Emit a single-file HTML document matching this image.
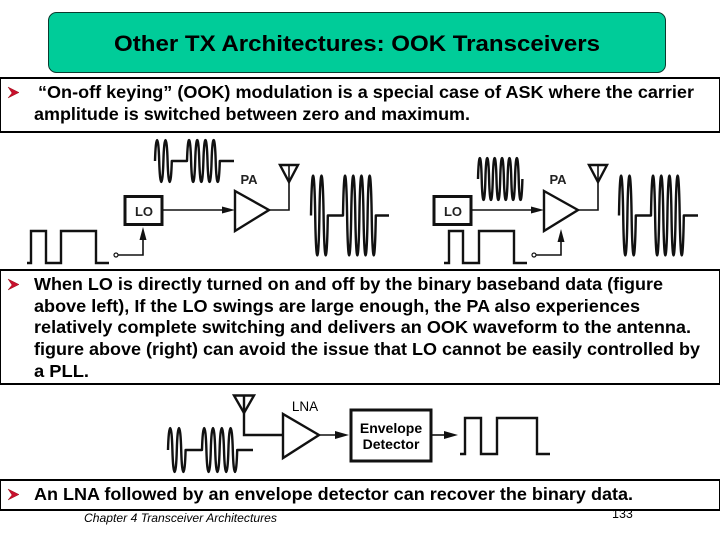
<!DOCTYPE html>
<html><head><meta charset="utf-8"><style>
html,body{margin:0;padding:0;background:#fff;width:720px;height:540px;overflow:hidden}
svg{display:block}
text{font-family:"Liberation Sans",Arial,sans-serif;fill:#000}
.b{font-weight:bold;font-size:17.2px}
.l{font-weight:bold;font-size:13px;fill:#222}
.w{fill:none;stroke:#111;stroke-width:2.4;vector-effect:non-scaling-stroke;stroke-linejoin:round}
.s{fill:none;stroke:#111;stroke-width:1.6}
.q{fill:none;stroke:#111;stroke-width:2.4}
.x{fill:none;stroke:#111;stroke-width:3}
.t{fill:none;stroke:#111;stroke-width:2.4}
.a{fill:#111;stroke:none}
.bl{fill:#c8102e;stroke:#800;stroke-width:.4}
</style></head><body>
<svg width="720" height="540" viewBox="0 0 720 540" xmlns="http://www.w3.org/2000/svg">
<rect x="48.5" y="12.5" width="617" height="60" rx="8" fill="#00cc99" stroke="#0b3b2e" stroke-width="1"/>
<text x="114" y="51" font-size="22" font-weight="bold" textLength="486" lengthAdjust="spacingAndGlyphs">Other TX Architectures: OOK Transceivers</text>

<rect x="0" y="78" width="720" height="54" fill="#fff" stroke="#000" stroke-width="2"/>
<rect x="0" y="270" width="720" height="114" fill="#fff" stroke="#000" stroke-width="2"/>
<rect x="0" y="480" width="720" height="30" fill="#fff" stroke="#000" stroke-width="2"/>

<path class="bl" d="M8,87 L19,92.5 L8,98 L12,93 Z"/>
<path class="bl" d="M8,279 L19,284.5 L8,290 L12,285 Z"/>
<path class="bl" d="M8,489 L19,494.5 L8,500 L12,495 Z"/>

<text class="b" x="38" y="98" textLength="656" lengthAdjust="spacingAndGlyphs">“On-off keying” (OOK) modulation is a special case of ASK where the carrier</text>
<text class="b" x="34" y="120" textLength="436" lengthAdjust="spacingAndGlyphs">amplitude is switched between zero and maximum.</text>
<text class="b" x="34" y="290" textLength="629" lengthAdjust="spacingAndGlyphs">When LO is directly turned on and off by the binary baseband data (figure</text>
<text class="b" x="34" y="312" textLength="606" lengthAdjust="spacingAndGlyphs">above left), If the LO swings are large enough, the PA also experiences</text>
<text class="b" x="34" y="333" textLength="657" lengthAdjust="spacingAndGlyphs">relatively complete switching and delivers an OOK waveform to the antenna.</text>
<text class="b" x="34" y="355" textLength="666" lengthAdjust="spacingAndGlyphs">figure above (right) can avoid the issue that LO cannot be easily controlled by</text>
<text class="b" x="34" y="377" textLength="55" lengthAdjust="spacingAndGlyphs">a PLL.</text>
<text class="b" x="34" y="500" textLength="599" lengthAdjust="spacingAndGlyphs">An LNA followed by an envelope detector can recover the binary data.</text>
<text x="84" y="522" font-size="12" font-style="italic" textLength="193" lengthAdjust="spacingAndGlyphs" fill="#222">Chapter 4 Transceiver Architectures</text>
<text x="612" y="518" font-size="12.5" fill="#222">133</text>

<!-- left TX -->
<path class="w" transform="translate(155,161) scale(1,21)" d="M0,0 c.8,-1.33 3.4,-1.33 4.2,0 s3.4,1.33 4.2,0 s3.4,-1.33 4.2,0 s3.4,1.33 4.2,0 H32 c.8,-1.33 3.3,-1.33 4.1,0 s3.3,1.33 4.1,0 s3.3,-1.33 4.1,0 s3.3,1.33 4.1,0 s3.3,-1.33 4.1,0 s3.3,1.33 4.1,0 s3.3,-1.33 4.1,0 s3.3,1.33 4.1,0 H79"/>
<path class="w" transform="translate(311,215.5) scale(1,40)" d="M0,0 c.8,-1.33 3.4,-1.33 4.2,0 s3.4,1.33 4.2,0 s3.4,-1.33 4.2,0 s3.4,1.33 4.2,0 H32 c.8,-1.33 3.3,-1.33 4.1,0 s3.3,1.33 4.1,0 s3.3,-1.33 4.1,0 s3.3,1.33 4.1,0 s3.3,-1.33 4.1,0 s3.3,1.33 4.1,0 s3.3,-1.33 4.1,0 s3.3,1.33 4.1,0 H78"/>
<rect class="x" x="125" y="196.5" width="37" height="28"/>
<text class="l" x="144" y="216" text-anchor="middle">LO</text>
<path class="s" d="M163,210 H224"/>
<path class="a" d="M222,206.5 L235,210 L222,213.5 Z"/>
<path class="t" d="M235,191 V231 L269,210 Z"/>
<path class="s" d="M269,210 H289 V165"/>
<path class="t" d="M280,165 H298 L289,182 Z"/>
<text class="l" x="249" y="184" text-anchor="middle">PA</text>
<path class="q" d="M27,263 H31 V231 H46 V263 H61 V231 H96 V263 H109"/>
<circle cx="116" cy="255" r="2" fill="#fff" stroke="#111" stroke-width="1.2"/>
<path class="s" d="M118,255 H143 V238"/>
<path class="a" d="M139.5,240 L143,227 L146.5,240 Z"/>

<!-- right TX -->
<path class="w" transform="translate(478,179) scale(1,21)" d="M0,0 c.7,-1.33 3,-1.33 3.7,0 s3,1.33 3.7,0 s3,-1.33 3.7,0 s3,1.33 3.7,0 s3,-1.33 3.7,0 s3,1.33 3.7,0 s3,-1.33 3.7,0 s3,1.33 3.7,0 s3,-1.33 3.7,0 s3,1.33 3.7,0 s3,-1.33 3.7,0 s3,1.33 3.7,0"/>
<path class="w" transform="translate(619,215.5) scale(1,40)" d="M0,0 c.8,-1.33 3.4,-1.33 4.2,0 s3.4,1.33 4.2,0 s3.4,-1.33 4.2,0 s3.4,1.33 4.2,0 H32 c.8,-1.33 3.3,-1.33 4.1,0 s3.3,1.33 4.1,0 s3.3,-1.33 4.1,0 s3.3,1.33 4.1,0 s3.3,-1.33 4.1,0 s3.3,1.33 4.1,0 s3.3,-1.33 4.1,0 s3.3,1.33 4.1,0 H79"/>
<rect class="x" x="434" y="196.5" width="37" height="28"/>
<text class="l" x="453" y="216" text-anchor="middle">LO</text>
<path class="s" d="M472,210 H533"/>
<path class="a" d="M531,206.5 L544,210 L531,213.5 Z"/>
<path class="t" d="M544,191 V231 L578,210 Z"/>
<path class="s" d="M578,210 H598 V165"/>
<path class="t" d="M589,165 H607 L598,182 Z"/>
<text class="l" x="558" y="184" text-anchor="middle">PA</text>
<path class="q" d="M444,263 H449 V231 H463 V263 H479 V231 H514 V263 H527"/>
<circle cx="534" cy="255" r="2" fill="#fff" stroke="#111" stroke-width="1.2"/>
<path class="s" d="M536,255 H561 V240"/>
<path class="a" d="M557.5,242 L561,229 L564.5,242 Z"/>

<!-- RX -->
<path class="w" transform="translate(168,450) scale(1,22)" d="M0,0 c.8,-1.33 3.6,-1.33 4.4,0 s3.6,1.33 4.4,0 s3.6,-1.33 4.4,0 s3.6,1.33 4.4,0 H34 c.8,-1.33 3.6,-1.33 4.4,0 s3.6,1.33 4.4,0 s3.6,-1.33 4.4,0 s3.6,1.33 4.4,0 s3.6,-1.33 4.4,0 s3.6,1.33 4.4,0 s3.6,-1.33 4.4,0 s3.6,1.33 4.4,0 H85"/>
<path class="t" d="M234,395.5 H254 L244,413 Z"/>
<path class="q" d="M244,395 V435 H283"/>
<path class="t" d="M283,414 V458 L319,435 Z"/>
<text x="305" y="411" text-anchor="middle" font-size="13.5" fill="#222">LNA</text>
<path class="s" d="M320,435 H338"/>
<path class="a" d="M335,431 L349,435 L335,439 Z"/>
<rect class="x" x="351" y="410" width="80" height="51"/>
<text x="391" y="433" text-anchor="middle" font-size="14" font-weight="bold" fill="#222">Envelope</text>
<text x="391" y="449" text-anchor="middle" font-size="14" font-weight="bold" fill="#222">Detector</text>
<path class="s" d="M431,435 H447"/>
<path class="a" d="M444,431 L458,435 L444,439 Z"/>
<path class="q" d="M460,454 H465 V418 H481 V454 H497 V418 H537 V454 H550"/>
</svg>
</body></html>
